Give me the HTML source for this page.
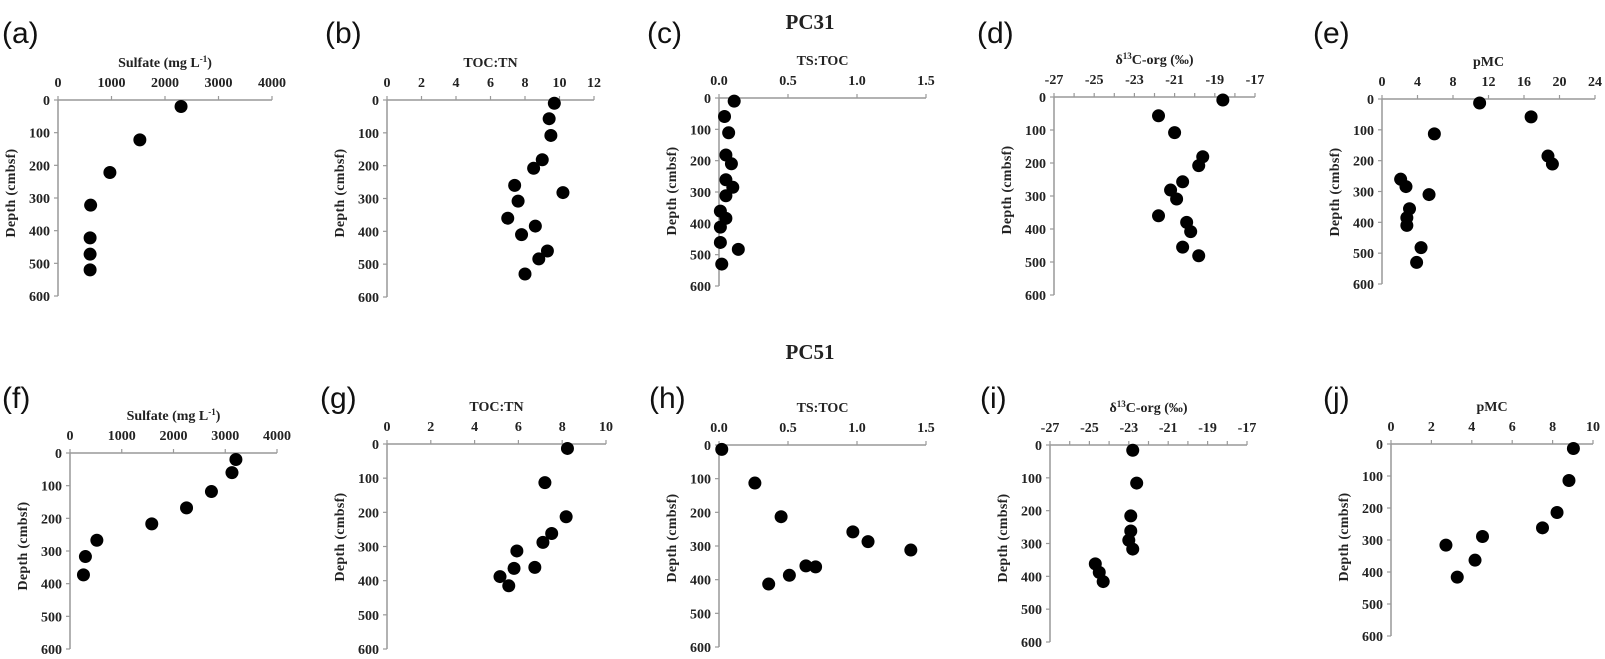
<!DOCTYPE html>
<html><head><meta charset="utf-8"><style>
body{margin:0;background:#fff}
svg{display:block}
.t{font-family:"Liberation Serif",serif;font-weight:bold;fill:#222}
.l{font-family:"Liberation Sans",sans-serif;fill:#111}
</style></head><body>
<svg id="fig" width="1605" height="659" viewBox="0 0 1605 659" xmlns="http://www.w3.org/2000/svg">
<text class="t" x="810" y="29" font-size="21" text-anchor="middle">PC31</text>
<text class="t" x="810" y="359" font-size="21" text-anchor="middle">PC51</text>
</svg>
<script>
const aDepth=[20,122,222,322,422,472,520];
const aVal=[2300,1530,970,610,600,600,600];
const bDepth=[10,57,108,182,208,260,282,308,360,384,410,460,484,530];
const bVal=[9.7,9.4,9.5,9.0,8.5,7.4,10.2,7.6,7.0,8.6,7.8,9.3,8.8,8.0];
const cDepth=[10,59,111,182,210,261,285,312,361,384,412,461,483,530];
const cVal=[0.11,0.04,0.07,0.05,0.09,0.05,0.10,0.05,0.01,0.05,0.01,0.01,0.14,0.02];
const dDepth=[9,57,108,181,208,257,282,309,360,380,408,455,481];
const dVal=[-18.6,-21.8,-21.0,-19.6,-19.8,-20.6,-21.2,-20.9,-21.8,-20.4,-20.2,-20.6,-19.8];
const eDepth=[13,58,113,185,211,260,284,310,356,385,410,482,530];
const eVal=[11.0,16.8,5.9,18.7,19.2,2.1,2.7,5.3,3.1,2.8,2.8,4.4,3.9];
const fDepth=[20,60,118,168,217,267,317,373];
const fVal=[3206,3130,2733,2252,1580,519,298,260];
const gDepth=[13,113,213,262,288,313,364,361,388,415];
const gVal=[8.24,7.21,8.18,7.52,7.12,5.93,5.8,6.75,5.16,5.56];
const hDepth=[13,113,213,258,287,312,359,362,387,413];
const hVal=[0.02,0.26,0.45,0.97,1.08,1.39,0.63,0.70,0.51,0.36];
const iDepth=[16,116,216,262,290,317,362,388,416];
const iVal=[-22.8,-22.6,-22.9,-22.9,-23.0,-22.8,-24.7,-24.5,-24.3];
const jDepth=[14,114,214,262,289,316,363,416];
const jVal=[9.03,8.81,8.22,7.5,4.53,2.72,4.16,3.28];
const depthTicks=[0,100,200,300,400,500,600];
const sulfTicks=["0","1000","2000","3000","4000"];
const tocTicks12=["0","2","4","6","8","10","12"];
const tocTicks10=["0","2","4","6","8","10"];
const tsTicks=["0.0","0.5","1.0","1.5"];
const dTicks=["-27","-25","-23","-21","-19","-17"];
const pmcTicks24=["0","4","8","12","16","20","24"];
const pmcTicks10=["0","2","4","6","8","10"];

const svg=document.getElementById('fig');
const NS='http://www.w3.org/2000/svg';
function mk(tag,at,parent){const e=document.createElementNS(NS,tag);for(const k in at)e.setAttribute(k,at[k]);(parent||svg).appendChild(e);return e;}

function panel(id,lx,ly,x0,x1,y0,y1,xmin,xmax,ticks,minor,titleHtml,vals,depths){
  const g=mk('g',{});
  
  
  const sx=v=>x0+(v-xmin)/(xmax-xmin)*(x1-x0);
  const sy=d=>y0+d/600*(y1-y0);
  const L=mk('text',{class:'l',x:lx,y:ly,'font-size':30},g);L.textContent='('+id+')';
  
  
  const xa=mk('line',{x1:x0,y1:y0,x2:x1,y2:y0,stroke:'#999','stroke-width':1.5},g);
  
  
  const ya=mk('line',{x1:x0,y1:y0,x2:x0,y2:y1,stroke:'#999','stroke-width':1.5},g);
  
  
  const nm=(ticks.length-1)*minor;
  for(let k=0;k<=nm;k++){const x=x0+k/nm*(x1-x0);mk('line',{x1:x,y1:y0,x2:x,y2:y0-4,stroke:'#999','stroke-width':1.2},g);}
  ticks.forEach((t,i)=>{const x=x0+i/(ticks.length-1)*(x1-x0);
    const tx=mk('text',{class:'t',x:x,y:y0-13,'font-size':14,'text-anchor':'middle'},g);tx.textContent=t;
    
    });
  depthTicks.forEach(d=>{const y=sy(d);mk('line',{x1:x0-4,y1:y,x2:x0,y2:y,stroke:'#999','stroke-width':1.2},g);
    const ty=mk('text',{class:'t',x:x0-8,y:y+5,'font-size':14,'text-anchor':'end'},g);ty.textContent=d;
    
    });
  const xt=mk('text',{class:'t',x:(x0+x1)/2,y:y0-33,'font-size':14,'text-anchor':'middle'},g);xt.innerHTML=titleHtml;
  
  
  const yc=y0+93,xc=x0-43;
  const yt=mk('text',{class:'t',x:xc,y:yc,'font-size':14,'text-anchor':'middle',transform:'rotate(-90 '+xc+' '+yc+')','letter-spacing':'0.3'},g);yt.textContent='Depth (cmbsf)';
  
  
  vals.forEach((v,i)=>{const c=mk('circle',{cx:sx(v),cy:sy(depths[i]),r:6.5,fill:'#000'},g);
    
    });
}
const sulf='Sulfate  (mg L<tspan font-size="9" dy="-5">-1</tspan><tspan dy="5">)</tspan>';
const sulf2='Sulfate (mg L<tspan font-size="9" dy="-5">-1</tspan><tspan dy="5">)</tspan>';
const d13='δ<tspan font-size="9" dy="-5">13</tspan><tspan dy="5">C-org (‰)</tspan>';
panel('a',2,43,58,272,100,296,0,4000,sulfTicks,1,sulf,aVal,aDepth);
panel('b',325,43,387,594,100,297,0,12,tocTicks12,1,'TOC:TN',bVal,bDepth);
panel('c',647,43,719,926,98,286,0,1.5,tsTicks,1,'TS:TOC',cVal,cDepth);
panel('d',977,43,1054,1255,97,295,-27,-17,dTicks,2,d13,dVal,dDepth);
panel('e',1313,43,1382,1595,99,284,0,24,pmcTicks24,1,'pMC',eVal,eDepth);
panel('f',2,408,70,277,453,649,0,4000,sulfTicks,1,sulf2,fVal,fDepth);
panel('g',320,408,387,606,444,649,0,10,tocTicks10,1,'TOC:TN',gVal,gDepth);
panel('h',649,408,719,926,445,647,0,1.5,tsTicks,1,'TS:TOC',hVal,hDepth);
panel('i',980,408,1050,1247,445,642,-27,-17,dTicks,2,d13,iVal,iDepth);
panel('j',1323,408,1391,1593,444,636,0,10,pmcTicks10,1,'pMC',jVal,jDepth);
</script>
</body></html>
